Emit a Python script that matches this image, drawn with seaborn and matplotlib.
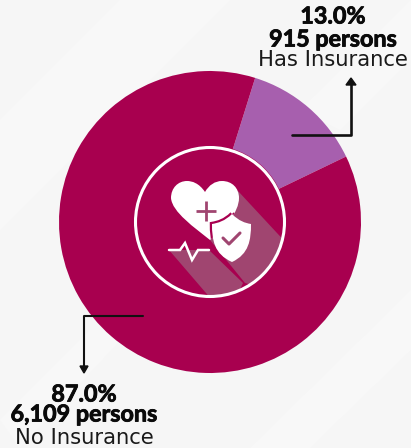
import numpy as np
import pandas as pd
import matplotlib
matplotlib.use("Agg")
import matplotlib.pyplot as plt
import matplotlib.patheffects as pe
import seaborn as sns
from matplotlib.patches import Circle, PathPatch, Polygon
from matplotlib.path import Path

# chart data
categories = ["Has Insurance", "No Insurance"]
persons = [915, 6109]
percents = [13.0, 87.0]
colors = ["#a75fae", "#a8004f"]

W, H = 411, 448
CX, CY, R = 210, 222, 151
START_ANGLE = 25.7
BG = "#f6f6f6"
DARK = "#a8004f"
SHADOW = "#a04570"

sns.set_theme(style="white")
plt.rcParams['font.family'] = ['Lato', 'DejaVu Sans']

df = pd.DataFrame({"category": categories, "persons": persons, "percent": percents})

fig = plt.figure(figsize=(W / 100, H / 100), dpi=100, facecolor=BG)
ax = fig.add_axes([0, 0, 1, 1])
ax.set_facecolor(BG)


def pt(x, y):
    # picture pixels (y down) to axes coords (y up)
    return (x, H - y)


def pts(lst):
    return [pt(x, y) for x, y in lst]


# faint diagonal bands in the background
for band in [[(0, 120), (120, 0), (230, 0), (0, 230)],
             [(250, 448), (411, 290), (411, 350), (310, 448)],
             [(0, 420), (90, 330), (130, 330), (20, 448)],
             [(300, 110), (411, 0), (411, 60), (340, 130)]]:
    ax.add_patch(Polygon(pts(band), closed=True, fc="#f8f8f8", ec="none", zorder=0))

# the pie
ax.pie(df["persons"], colors=colors, startangle=START_ANGLE, counterclock=True,
       center=pt(CX, CY), radius=R, frame=True,
       wedgeprops={"linewidth": 0, "zorder": 1})
ax.set_xlim(0, W)
ax.set_ylim(0, H)
ax.set_aspect("auto")
ax.axis("off")

# centre disc and ring around the icon
ax.add_patch(Circle(pt(CX, CY), 76.5, fc=DARK, ec="none", zorder=1.5))
clip = Circle(pt(CX, CY), 74, transform=ax.transData)
ax.add_patch(Circle(pt(CX, CY), 74.5, fc="none", ec="white", lw=2.2, zorder=6))

# long shadows of the icon
for poly in [[(238, 191), (290, 247), (270, 290), (245, 283), (210, 240)],
             [(169, 250), (209, 250), (243, 283), (235, 300), (212, 300)]]:
    sh = Polygon(pts(poly), closed=True, fc=SHADOW, ec="none", zorder=2)
    ax.add_patch(sh)
    sh.set_clip_path(clip)

# heart
C4 = Path.CURVE4
heart = Path(pts([(205, 192), (199, 183), (192, 181), (187, 181),
                  (178, 181), (171, 188), (171, 198),
                  (172, 212), (195, 228), (210, 240),
                  (225, 228), (239, 212), (239, 198),
                  (239, 188), (232, 181), (222, 181),
                  (215, 181), (209, 185), (205, 192)]),
             [Path.MOVETO] + [C4] * 18)
heart_patch = PathPatch(heart, fc="white", ec="none", zorder=4)
ax.add_patch(heart_patch)

# plus on the heart
ax.plot(*zip(*pts([(196, 211), (216, 211)])), color=SHADOW, lw=2, zorder=5, solid_capstyle="butt")
ax.plot(*zip(*pts([(206, 201), (206, 221)])), color=SHADOW, lw=2, zorder=5, solid_capstyle="butt")

# shield, gap only where it sits on the heart
shield = Path(pts([(232, 214), (225, 221), (218, 223), (212, 224),
                   (212, 240), (214, 254), (232, 262),
                   (249, 254), (251, 240), (251, 224),
                   (245, 223), (239, 221), (232, 214)]),
              [Path.MOVETO] + [C4] * 12)
gap = PathPatch(shield, fc="none", ec=DARK, lw=3.2, zorder=4.5)
ax.add_patch(gap)
gap.set_clip_path(heart_patch)
ax.add_patch(PathPatch(shield, fc="white", ec="none", zorder=5))
ax.plot(*zip(*pts([(223, 238), (229, 244), (240, 233)])), color=SHADOW, lw=2.2, zorder=6)

# pulse line
ax.plot(*zip(*pts([(169, 250), (180, 250), (185, 243), (192, 260), (198, 250), (209, 250)])),
        color="white", lw=1.8, zorder=5, solid_joinstyle="miter")

# callouts
ax.plot(*zip(*pts([(292, 135), (351, 135), (351, 84)])), color="#111111", lw=1.9, zorder=7)
ax.fill(*zip(*pts([(346, 85), (356, 85), (351, 78)])), color="#111111", zorder=7)
ax.plot(*zip(*pts([(143, 316), (84, 316), (84, 367)])), color="#111111", lw=1.5, zorder=7)
ax.fill(*zip(*pts([(80, 366), (88, 366), (84, 373)])), color="#111111", zorder=7)

# labels
label_pos = [(333, [17, 40, 60]), (84, [395, 415, 438])]
stroke = [pe.withStroke(linewidth=0.6, foreground="#0a0a0a")]
for row, (lx, ys) in zip(df.itertuples(), label_pos):
    ax.text(*pt(lx, ys[0]), f"{row.percent:.1f}%", ha="center", va="center", fontsize=16.8,
            fontweight="bold", color="#0a0a0a", zorder=8, path_effects=stroke)
    ax.text(*pt(lx, ys[1]), f"{row.persons:,} persons", ha="center", va="center", fontsize=16.8,
            fontweight="bold", color="#0a0a0a", zorder=8, path_effects=stroke)
    ax.text(*pt(lx, ys[2]), row.category, ha="center", va="center", fontsize=15.2,
            family="DejaVu Sans", color="#1a1a1a", zorder=8)

fig.savefig("out.png", dpi=100, facecolor=BG)
